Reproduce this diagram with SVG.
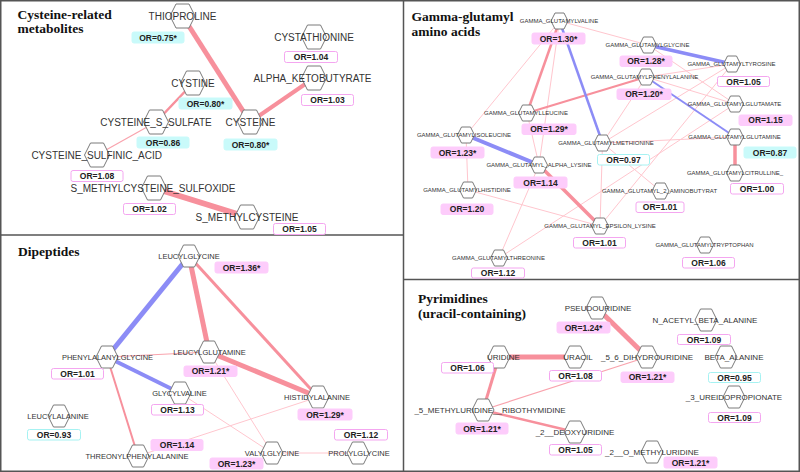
<svg xmlns="http://www.w3.org/2000/svg" width="800" height="472" viewBox="0 0 800 472">
<style>
.bg{fill:#fff}
.frame{fill:none;stroke:#555;stroke-width:1.5}
.title{font-family:"Liberation Serif",serif;font-weight:bold;font-size:13.5px;fill:#111}
.hx{fill:#fff;stroke:#7a7a7a;stroke-width:1}
.l1{font-family:"Liberation Sans",Arial,sans-serif;font-size:10px;fill:#333;text-anchor:middle}
.l2{font-family:"Liberation Sans",Arial,sans-serif;font-size:6px;fill:#333;text-anchor:middle}
.l3{font-family:"Liberation Sans",Arial,sans-serif;font-size:7.5px;fill:#333;text-anchor:middle}
.l4{font-family:"Liberation Sans",Arial,sans-serif;font-size:8px;fill:#333;text-anchor:middle}
.or{font-family:"Liberation Sans",Arial,sans-serif;font-size:8.5px;font-weight:bold;fill:#222;text-anchor:middle}
.bp{fill:#fdccfb;stroke:#fdccfb;stroke-width:1}
.bc{fill:#c9fafa;stroke:#c9fafa;stroke-width:1}
.wp{fill:#fff;stroke:#f4a6f0;stroke-width:1}
.wc{fill:#fff;stroke:#a6f2f2;stroke-width:1}
.p{stroke:#f7909c;stroke-linecap:butt;fill:none}
.m{stroke:#f9a3ad;stroke-width:1.2;fill:none}
.t{stroke:#ffc6ce;stroke-width:1;fill:none}
.b{stroke:#8c8cf6;fill:none}
</style>
<defs>
<path id="hL" class="hx" d="M-12.5,0 L-6.5,-12 L6.5,-12 L12.5,0 L6.5,12 L-6.5,12 Z"/>
<path id="hM" class="hx" d="M-11,0 L-5.5,-11 L5.5,-11 L11,0 L5.5,11 L-5.5,11 Z"/>
<path id="hS" class="hx" d="M-8.5,0 L-4.5,-8 L4.5,-8 L8.5,0 L4.5,8 L-4.5,8 Z"/>
</defs>
<rect class="bg" x="0" y="0" width="800" height="472"/>

<g id="frames">
<rect class="frame" x="0.75" y="0.75" width="798.5" height="470.5"/>
<line class="frame" x1="403.5" y1="0" x2="403.5" y2="472"/>
<line class="frame" x1="0" y1="235" x2="403.5" y2="235"/>
<line class="frame" x1="403.5" y1="279.5" x2="800" y2="279.5"/>
</g>

<g id="titles">
<text class="title" x="17.5" y="18.5">Cysteine-related</text>
<text class="title" x="17.5" y="33">metabolites</text>
<text class="title" x="411.5" y="21">Gamma-glutamyl</text>
<text class="title" x="411.5" y="36">amino acids</text>
<text class="title" x="18" y="256">Dipeptides</text>
<text class="title" x="418" y="303">Pyrimidines</text>
<text class="title" x="418" y="317.5">(uracil-containing)</text>
</g>

<g id="connectors">
<!-- cysteine panel -->
<line class="p" stroke-width="5" x1="182.5" y1="16" x2="250" y2="122"/>
<line class="p" stroke-width="4" x1="314" y1="78" x2="250" y2="122"/>
<line class="p" stroke-width="2.5" x1="193" y1="83" x2="156" y2="122"/>
<line class="m" x1="156" y1="122" x2="97" y2="155"/>
<line class="p" stroke-width="5.5" x1="154" y1="188" x2="247" y2="217"/>
<!-- gamma panel thin -->
<line class="t" x1="559.5" y1="21" x2="648" y2="45"/>
<line class="t" x1="559.5" y1="21" x2="466" y2="135"/>
<line class="t" x1="559.5" y1="21" x2="539" y2="165"/>
<line class="t" x1="527" y1="113" x2="539" y2="165"/>
<line class="t" x1="466" y1="135" x2="468" y2="190"/>
<line class="t" x1="468" y1="190" x2="600" y2="226"/>
<line class="t" x1="539" y1="165" x2="499" y2="258"/>
<line class="t" x1="602.5" y1="143" x2="600" y2="226"/>
<line class="t" x1="602.5" y1="143" x2="660.5" y2="191"/>
<line class="t" x1="602.5" y1="143" x2="735" y2="137"/>
<line class="t" x1="602.5" y1="143" x2="646" y2="77"/>
<line class="t" x1="602.5" y1="143" x2="732" y2="64"/>
<line class="t" x1="646" y1="77" x2="732" y2="64"/>
<line class="t" x1="499" y1="258" x2="735" y2="104"/>
<line class="t" x1="600" y1="226" x2="732" y2="64"/>
<line class="t" x1="648" y1="45" x2="735" y2="104"/>
<line class="t" x1="646" y1="77" x2="735" y2="104"/>
<!-- gamma panel strong -->
<line class="p" stroke-width="2.5" x1="559.5" y1="21" x2="527" y2="113"/>
<line class="p" stroke-width="2" x1="646" y1="77" x2="527" y2="113"/>
<line class="p" stroke-width="3.5" x1="735" y1="137" x2="735" y2="173"/>
<line class="p" stroke-width="3.5" x1="539" y1="165" x2="600" y2="226"/>
<line class="b" stroke-width="2.5" x1="559.5" y1="21" x2="602.5" y2="143"/>
<line class="b" stroke-width="3.5" x1="648" y1="45" x2="732" y2="64"/>
<line class="b" stroke-width="2" x1="646" y1="77" x2="735" y2="137"/>
<line class="b" stroke-width="4" x1="466" y1="135" x2="539" y2="165"/>
<!-- dipeptides -->
<line class="t" x1="318" y1="397" x2="138" y2="456"/>
<line class="t" x1="180" y1="393" x2="272" y2="453"/>
<line class="t" x1="209" y1="352" x2="272" y2="453"/>
<line class="t" x1="272" y1="453" x2="358" y2="453"/>
<line class="m" x1="107" y1="357" x2="209" y2="352"/>
<line class="p" stroke-width="2" x1="107" y1="357" x2="138" y2="456"/>
<line class="p" stroke-width="3" x1="189" y1="256" x2="318" y2="397"/>
<line class="p" stroke-width="5" x1="189" y1="256" x2="209" y2="352"/>
<line class="p" stroke-width="5" x1="209" y1="352" x2="318" y2="397"/>
<line class="b" stroke-width="5" x1="189" y1="256" x2="107" y2="357"/>
<line class="b" stroke-width="4" x1="107" y1="357" x2="180" y2="393"/>
<!-- pyrimidines -->
<line class="m" x1="483" y1="410" x2="647" y2="357"/>
<line class="p" stroke-width="5" x1="597" y1="308" x2="647" y2="357"/>
<line class="p" stroke-width="5" x1="499" y1="357" x2="575" y2="357"/>
<line class="p" stroke-width="3" x1="499" y1="357" x2="483" y2="410"/>
<line class="p" stroke-width="2.5" x1="483" y1="410" x2="575" y2="432"/>
</g>

<!-- ===== Cysteine-related ===== -->
<g id="thioproline"><use href="#hL" x="182.5" y="16"/><text class="l1" x="182.5" y="19.6">THIOPROLINE</text><rect class="bc" x="132" y="32" width="52" height="11" rx="2"/><text class="or" x="158" y="40.6">OR=0.75*</text></g>
<g id="cystathionine"><use href="#hL" x="314" y="37"/><text class="l1" x="314" y="40.6">CYSTATHIONINE</text><rect class="wp" x="284.5" y="51.5" width="53" height="11" rx="2"/><text class="or" x="311" y="60">OR=1.04</text></g>
<g id="alpha_ketobutyrate"><use href="#hL" x="314" y="78"/><text class="l1" x="312.5" y="81.6">ALPHA_KETOBUTYRATE</text><rect class="wp" x="301.5" y="94.5" width="52" height="11" rx="2"/><text class="or" x="327.5" y="103">OR=1.03</text></g>
<g id="cystine"><use href="#hL" x="193" y="83"/><text class="l1" x="193" y="86.6">CYSTINE</text><rect class="bc" x="179" y="98" width="53" height="11" rx="2"/><text class="or" x="205.5" y="106.6">OR=0.80*</text></g>
<g id="cysteine_s_sulfate"><use href="#hL" x="156" y="122"/><text class="l1" x="156" y="125.6">CYSTEINE_S_SULFATE</text><rect class="bc" x="137" y="137" width="52" height="11" rx="2"/><text class="or" x="163" y="145.6">OR=0.86</text></g>
<g id="cysteine"><use href="#hL" x="250" y="122"/><text class="l1" x="250.5" y="125.6">CYSTEINE</text><rect class="bc" x="224" y="139" width="53" height="11" rx="2"/><text class="or" x="250.5" y="147.6">OR=0.80*</text></g>
<g id="cysteine_sulfinic_acid"><use href="#hL" x="97" y="155"/><text class="l1" x="96.7" y="158.6">CYSTEINE_SULFINIC_ACID</text><rect class="wp" x="71" y="170.5" width="52" height="11" rx="2"/><text class="or" x="97" y="179">OR=1.08</text></g>
<g id="s_methylcysteine_sulfoxide"><use href="#hL" x="154" y="188"/><text class="l1" x="153" y="191.6">S_METHYLCYSTEINE_SULFOXIDE</text><rect class="wp" x="123.5" y="203.5" width="52" height="11" rx="2"/><text class="or" x="149.5" y="212">OR=1.02</text></g>
<g id="s_methylcysteine"><use href="#hL" x="247" y="217"/><text class="l1" x="247" y="220.6">S_METHYLCYSTEINE</text><rect class="wp" x="273.5" y="223.5" width="52" height="11" rx="2"/><text class="or" x="299.5" y="232">OR=1.05</text></g>

<!-- ===== Gamma-glutamyl ===== -->
<g id="gg_valine"><use href="#hS" x="559.5" y="21"/><text class="l2" x="559" y="23.2">GAMMA_GLUTAMYLVALINE</text><rect class="bp" x="532" y="33" width="53" height="11" rx="2"/><text class="or" x="558.5" y="41.6">OR=1.30*</text></g>
<g id="gg_glycine"><use href="#hS" x="648" y="45"/><text class="l2" x="647.5" y="47.2">GAMMA_GLUTAMYLGLYCINE</text><rect class="bp" x="620" y="56" width="52" height="10.5" rx="2"/><text class="or" x="646" y="64.4">OR=1.28*</text></g>
<g id="gg_tyrosine"><use href="#hS" x="732" y="64"/><text class="l2" x="731.5" y="66.2">GAMMA_GLUTAMYLTYROSINE</text><rect class="wp" x="717.5" y="76.5" width="52" height="10" rx="2"/><text class="or" x="743.5" y="84.6">OR=1.05</text></g>
<g id="gg_phenylalanine"><use href="#hS" x="646" y="77"/><text class="l2" x="644.5" y="79.2">GAMMA_GLUTAMYLPHENYLALANINE</text><rect class="bp" x="617" y="89" width="54" height="10.5" rx="2"/><text class="or" x="644" y="97.4">OR=1.20*</text></g>
<g id="gg_glutamate"><use href="#hS" x="735" y="104"/><text class="l2" x="734.5" y="106.2">GAMMA_GLUTAMYLGLUTAMATE</text><rect class="bp" x="739" y="115" width="53" height="10.5" rx="2"/><text class="or" x="765.5" y="123.4">OR=1.15</text></g>
<g id="gg_leucine"><use href="#hS" x="527" y="113"/><text class="l2" x="526" y="115.2">GAMMA_GLUTAMYLLEUCINE</text><rect class="bp" x="522" y="124" width="54" height="10.5" rx="2"/><text class="or" x="549" y="132.4">OR=1.29*</text></g>
<g id="gg_isoleucine"><use href="#hS" x="466" y="135"/><text class="l2" x="464" y="137.2">GAMMA_GLUTAMYLISOLEUCINE</text><rect class="bp" x="431" y="147" width="53" height="11" rx="2"/><text class="or" x="457.5" y="155.6">OR=1.23*</text></g>
<g id="gg_glutamine"><use href="#hS" x="735" y="137"/><text class="l2" x="734.5" y="139.2">GAMMA_GLUTAMYLGLUTAMINE</text><rect class="bc" x="744" y="147" width="52" height="11" rx="2"/><text class="or" x="770" y="155.6">OR=0.87</text></g>
<g id="gg_methionine"><use href="#hS" x="602.5" y="143"/><text class="l2" x="606" y="145.2">GAMMA_GLUTAMYLMETHIONINE</text><rect class="wc" x="597.5" y="154.5" width="52" height="10.5" rx="2"/><text class="or" x="623.5" y="163">OR=0.97</text></g>
<g id="gg_alpha_lysine"><use href="#hS" x="539" y="165"/><text class="l2" x="539" y="167.2">GAMMA_GLUTAMYL_ALPHA_LYSINE</text><rect class="bp" x="514" y="177" width="53" height="11" rx="2"/><text class="or" x="540.5" y="185.6">OR=1.14</text></g>
<g id="gg_citrulline"><use href="#hS" x="735" y="173"/><text class="l2" x="735" y="175.2">GAMMA_GLUTAMYLCITRULLINE_</text><rect class="wp" x="730.5" y="183.5" width="53" height="10.5" rx="2"/><text class="or" x="757" y="191.8">OR=1.00</text></g>
<g id="gg_histidine"><use href="#hS" x="468" y="190"/><text class="l2" x="467" y="192.2">GAMMA_GLUTAMYLHISTIDINE</text><rect class="bp" x="441" y="204" width="52" height="10.5" rx="2"/><text class="or" x="467" y="212.4">OR=1.20</text></g>
<g id="gg_2_aminobutyrat"><use href="#hS" x="660.5" y="191"/><text class="l2" x="659.5" y="193.2">GAMMA_GLUTAMYL_2_AMINOBUTYRAT</text><rect class="wp" x="636" y="202" width="48" height="10.5" rx="2"/><text class="or" x="660" y="210.4">OR=1.01</text></g>
<g id="gg_epsilon_lysine"><use href="#hS" x="600" y="226"/><text class="l2" x="600" y="228.2">GAMMA_GLUTAMYL_EPSILON_LYSINE</text><rect class="wp" x="573.5" y="237.5" width="52" height="10.5" rx="2"/><text class="or" x="599.5" y="245.8">OR=1.01</text></g>
<g id="gg_tryptophan"><use href="#hS" x="705" y="245"/><text class="l2" x="704.5" y="247.2">GAMMA_GLUTAMYLTRYPTOPHAN</text><rect class="wp" x="682.5" y="257.5" width="52" height="10.5" rx="2"/><text class="or" x="708.5" y="265.8">OR=1.06</text></g>
<g id="gg_threonine"><use href="#hS" x="499" y="258"/><text class="l2" x="498.5" y="260.2">GAMMA_GLUTAMYLTHREONINE</text><rect class="wp" x="471.5" y="268" width="53" height="10" rx="2"/><text class="or" x="498" y="276.1">OR=1.12</text></g>

<!-- ===== Dipeptides ===== -->
<g id="leucylglycine"><use href="#hM" x="189" y="256"/><text class="l3" x="189" y="258.7">LEUCYLGLYCINE</text><rect class="bp" x="215" y="262" width="53" height="11" rx="2"/><text class="or" x="241.5" y="270.6">OR=1.36*</text></g>
<g id="phenylalanylglycine"><use href="#hM" x="107" y="357"/><text class="l3" x="107.5" y="359.7">PHENYLALANYLGLYCINE</text><rect class="wp" x="51.5" y="368.5" width="52" height="10.5" rx="2"/><text class="or" x="77.5" y="376.8">OR=1.01</text></g>
<g id="leucylglutamine"><use href="#hM" x="209" y="352"/><text class="l3" x="209.5" y="354.7">LEUCYLGLUTAMINE</text><rect class="bp" x="184" y="366" width="53" height="10.5" rx="2"/><text class="or" x="210.5" y="374.4">OR=1.21*</text></g>
<g id="glycylvaline"><use href="#hM" x="180" y="393"/><text class="l3" x="179.5" y="395.7">GLYCYLVALINE</text><rect class="wp" x="151.5" y="404.5" width="52" height="10.5" rx="2"/><text class="or" x="177.5" y="412.8">OR=1.13</text></g>
<g id="histidylalanine"><use href="#hM" x="318" y="397"/><text class="l3" x="317" y="399.7">HISTIDYLALANINE</text><rect class="bp" x="298" y="409" width="54" height="11" rx="2"/><text class="or" x="325" y="417.6">OR=1.29*</text></g>
<g id="leucylalanine"><use href="#hM" x="59" y="416"/><text class="l3" x="58" y="418.7">LEUCYLALANINE</text><rect class="wc" x="27.5" y="429.5" width="53" height="10.5" rx="2"/><text class="or" x="54" y="437.8">OR=0.93</text></g>
<g id="threonylphenylalanine"><use href="#hM" x="138" y="456"/><text class="l3" x="137" y="458.7">THREONYLPHENYLALANINE</text><rect class="bp" x="151" y="439.5" width="52" height="11" rx="2"/><text class="or" x="177" y="448.1">OR=1.14</text></g>
<g id="valylglycine"><use href="#hM" x="272" y="453"/><text class="l3" x="272" y="455.7">VALYLGLYCINE</text><rect class="bp" x="210" y="458" width="53" height="11" rx="2"/><text class="or" x="236.5" y="466.6">OR=1.23*</text></g>
<g id="prolylglycine"><use href="#hM" x="358" y="453"/><text class="l3" x="359" y="455.7">PROLYLGLYCINE</text><rect class="wp" x="334.5" y="429.5" width="53" height="10.5" rx="2"/><text class="or" x="361" y="437.8">OR=1.12</text></g>

<!-- ===== Pyrimidines ===== -->
<g id="pseudouridine"><use href="#hM" x="597" y="308"/><text class="l4" x="598" y="310.9">PSEUDOURIDINE</text><rect class="bp" x="557" y="322" width="53" height="11" rx="2"/><text class="or" x="583.5" y="330.6">OR=1.24*</text></g>
<g id="n_acetyl_beta_alanine"><use href="#hM" x="706" y="320"/><text class="l4" x="705" y="322.9">N_ACETYL_BETA_ALANINE</text><rect class="wp" x="677.5" y="334.5" width="53" height="10" rx="2"/><text class="or" x="704" y="342.6">OR=1.09</text></g>
<g id="uridine"><use href="#hM" x="499" y="357"/><text class="l4" x="503.5" y="359.9">URIDINE</text><rect class="wp" x="441.5" y="362.5" width="52" height="10.5" rx="2"/><text class="or" x="467.5" y="370.8">OR=1.06</text></g>
<g id="uracil"><use href="#hM" x="575" y="357"/><text class="l4" x="578" y="359.9">URACIL</text><rect class="wp" x="549.5" y="370.5" width="52" height="10.5" rx="2"/><text class="or" x="575.5" y="378.8">OR=1.08</text></g>
<g id="_5_6_dihydrouridine"><use href="#hM" x="647" y="357"/><text class="l4" x="647" y="359.9">_5_6_DIHYDROURIDINE</text><rect class="bp" x="621" y="372" width="53" height="10.5" rx="2"/><text class="or" x="647.5" y="380.4">OR=1.21*</text></g>
<g id="beta_alanine"><use href="#hM" x="726" y="357"/><text class="l4" x="734" y="359.9">BETA_ALANINE</text><rect class="wc" x="708.5" y="372.5" width="52" height="10" rx="2"/><text class="or" x="734.5" y="380.6">OR=0.95</text></g>
<g id="_3_ureidopropionate"><use href="#hM" x="734" y="397"/><text class="l4" x="734" y="399.9">_3_UREIDOPROPIONATE</text><rect class="wp" x="708.5" y="412.5" width="52" height="10" rx="2"/><text class="or" x="734.5" y="420.6">OR=1.09</text></g>
<g id="_5_methyluridine__ribothymidine"><use href="#hM" x="483" y="410"/><text class="l4" x="490" y="412.9">_5_METHYLURIDINE__RIBOTHYMIDINE</text><rect class="bp" x="456" y="423" width="52" height="11" rx="2"/><text class="or" x="482" y="431.6">OR=1.21*</text></g>
<g id="_2__deoxyuridine"><use href="#hM" x="575" y="432"/><text class="l4" x="575" y="434.9">_2__DEOXYURIDINE</text><rect class="wp" x="549.5" y="444.5" width="52" height="10.5" rx="2"/><text class="or" x="575.5" y="452.8">OR=1.05</text></g>
<g id="_2__o_methyluridine"><use href="#hM" x="652" y="452"/><text class="l4" x="652" y="454.9">_2__O_METHYLURIDINE</text><rect class="bp" x="664" y="457" width="53" height="11" rx="2"/><text class="or" x="690.5" y="465.6">OR=1.21*</text></g>
</svg>
